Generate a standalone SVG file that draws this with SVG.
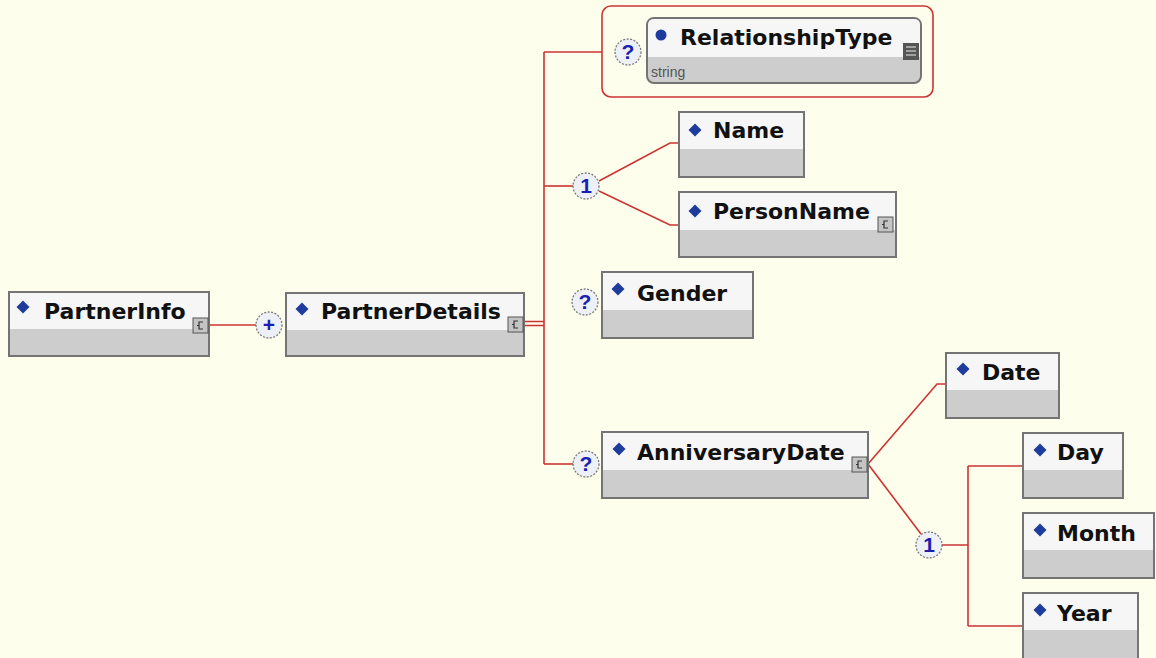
<svg xmlns="http://www.w3.org/2000/svg" xmlns:xlink="http://www.w3.org/1999/xlink" width="1156" height="658" viewBox="0 0 1156 658">
<style>
.box{fill:#CDCDCD;stroke:#747474;stroke-width:2}
.hdr{fill:#F6F6F6}
.lbl{font-family:"DejaVu Sans","Verdana",sans-serif;font-weight:bold;font-size:22px;fill:#111}
.sub{font-family:"Liberation Sans",Arial,sans-serif;font-size:14px;fill:#555}
.ln{fill:none;stroke:#CC3333;stroke-width:1.6}
.circ{fill:#EEF0F8;stroke:#7A7A7A;stroke-width:1.3;stroke-dasharray:2 1.5}
.ct{font-family:"Liberation Sans",Arial,sans-serif;font-weight:bold;font-size:21px;fill:#1A1FB0;text-anchor:middle}
</style>
<defs>
<path id="dia" d="M0,-6.5 L6.5,0 L0,6.5 L-6.5,0Z" fill="#1E3C9E"/>
<g id="cicon">
<rect x="0" y="0" width="15" height="15" fill="#C4C4C4" stroke="#555" stroke-width="1"/>
<path d="M10,4 H6 V11 H10 M6,7.5 H4" fill="none" stroke="#333" stroke-width="1.2"/>
</g>
</defs>
<rect x="0" y="0" width="1156" height="658" fill="#FEFEEC"/>

<g id="connectors">
<path class="ln" d="M209,325 H256"/>
<path class="ln" d="M524,321.5 H544 M524,325.5 H544"/>
<path class="ln" d="M544,52 V464"/>
<path class="ln" d="M544,52 H602"/>
<path class="ln" d="M544,186 H573"/>
<path class="ln" d="M599,181 L670,143 H679"/>
<path class="ln" d="M599,191 L670,225 H679"/>
<path class="ln" d="M544,464 H573"/>
<path class="ln" d="M868,464 L937,384 H946"/>
<path class="ln" d="M868,464 L921,534"/>
<path class="ln" d="M942,545 H968 M968,466 V626 M968,466 H1023 M968,626 H1023"/>
</g>

<g id="PartnerInfo">
<rect class="box" x="9" y="292" width="200" height="64"/>
<rect class="hdr" x="10" y="293" width="198" height="36"/>
<use xlink:href="#dia" x="23" y="307"/>
<text class="lbl" x="44" y="319">PartnerInfo</text>
<use xlink:href="#cicon" x="193" y="318"/>
</g>

<g id="PartnerDetails">
<rect class="box" x="286" y="293" width="238" height="63"/>
<rect class="hdr" x="287" y="294" width="236" height="36"/>
<use xlink:href="#dia" x="302" y="309"/>
<text class="lbl" x="321" y="319">PartnerDetails</text>
<use xlink:href="#cicon" x="508" y="317"/>
</g>

<g id="RelationshipType">
<rect x="602" y="6" width="331" height="91" rx="9" fill="none" stroke="#CC3333" stroke-width="1.6"/>
<rect x="647" y="18" width="274" height="65" rx="7" fill="#CDCDCD" stroke="#747474" stroke-width="2"/>
<path d="M648,57 V25 Q648,19 654,19 H914 Q920,19 920,25 V57 Z" fill="#F6F6F6"/>
<circle cx="661" cy="35" r="5.5" fill="#1E3C9E"/>
<text class="lbl" x="680" y="45">RelationshipType</text>
<text class="sub" x="651" y="77">string</text>
<rect x="903" y="43" width="16" height="17" fill="#555"/>
<path d="M906,47 H916 M906,51 H916 M906,55 H916" stroke="#BBB" stroke-width="1.3"/>
</g>

<g id="Name">
<rect class="box" x="679" y="112" width="125" height="65"/>
<rect class="hdr" x="680" y="113" width="123" height="36"/>
<use xlink:href="#dia" x="695" y="130"/>
<text class="lbl" x="713" y="138">Name</text>
</g>

<g id="PersonName">
<rect class="box" x="679" y="192" width="217" height="65"/>
<rect class="hdr" x="680" y="193" width="215" height="37"/>
<use xlink:href="#dia" x="695" y="211"/>
<text class="lbl" x="713" y="219">PersonName</text>
<use xlink:href="#cicon" x="878" y="217"/>
</g>

<g id="Gender">
<rect class="box" x="602" y="272" width="151" height="66"/>
<rect class="hdr" x="603" y="273" width="149" height="37"/>
<use xlink:href="#dia" x="618" y="289"/>
<text class="lbl" x="637" y="301">Gender</text>
</g>

<g id="AnniversaryDate">
<rect class="box" x="602" y="432" width="266" height="66"/>
<rect class="hdr" x="603" y="433" width="264" height="37"/>
<use xlink:href="#dia" x="619" y="449"/>
<text class="lbl" x="637" y="460">AnniversaryDate</text>
<use xlink:href="#cicon" x="852" y="457"/>
</g>

<g id="Date">
<rect class="box" x="946" y="353" width="113" height="65"/>
<rect class="hdr" x="947" y="354" width="111" height="36"/>
<use xlink:href="#dia" x="963" y="369"/>
<text class="lbl" x="982" y="380">Date</text>
</g>

<g id="Day">
<rect class="box" x="1023" y="433" width="100" height="65"/>
<rect class="hdr" x="1024" y="434" width="98" height="36"/>
<use xlink:href="#dia" x="1040" y="450"/>
<text class="lbl" x="1057" y="460">Day</text>
</g>

<g id="Month">
<rect class="box" x="1023" y="513" width="131" height="65"/>
<rect class="hdr" x="1024" y="514" width="129" height="36"/>
<use xlink:href="#dia" x="1040" y="530"/>
<text class="lbl" x="1057" y="541">Month</text>
</g>

<g id="Year">
<rect class="box" x="1023" y="593" width="115" height="72"/>
<rect class="hdr" x="1024" y="594" width="113" height="36"/>
<use xlink:href="#dia" x="1040" y="610"/>
<text class="lbl" x="1057" y="621">Year</text>
</g>

<g id="c-plus"><circle class="circ" cx="269" cy="325" r="13"/><text class="ct" x="269" y="332">+</text></g>
<g id="c-choice1"><circle class="circ" cx="586" cy="186" r="13"/><text class="ct" x="586" y="193">1</text></g>
<g id="c-opt-rel"><circle class="circ" cx="628" cy="52" r="13"/><text class="ct" x="628" y="59">?</text></g>
<g id="c-opt-gender"><circle class="circ" cx="585" cy="302" r="13"/><text class="ct" x="585" y="309">?</text></g>
<g id="c-opt-ann"><circle class="circ" cx="586" cy="464" r="13"/><text class="ct" x="586" y="471">?</text></g>
<g id="c-choice2"><circle class="circ" cx="929" cy="545" r="13"/><text class="ct" x="929" y="552">1</text></g>
</svg>
